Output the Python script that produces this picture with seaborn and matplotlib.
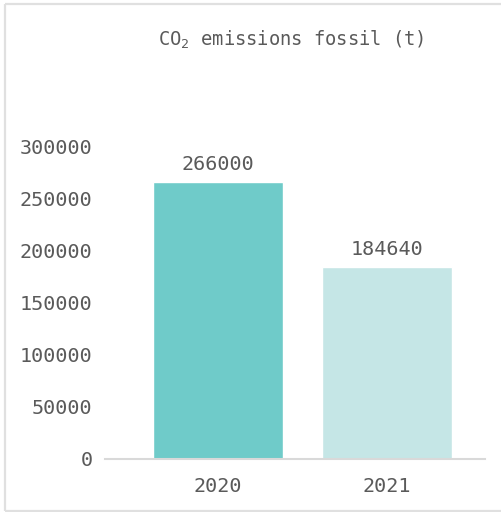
import matplotlib
matplotlib.use("Agg")
import matplotlib.pyplot as plt
import seaborn as sns
import pandas as pd
from matplotlib.lines import Line2D

years = ["2020", "2021"]
emissions = [266000, 184640]
bar_colors = ["#6fcbc9", "#c5e6e6"]
y_ticks = [0, 50000, 100000, 150000, 200000, 250000, 300000]

sns.set_theme(style="white")
plt.rcParams["font.family"] = ["DejaVu Sans Mono"]
text_color = "#5a5a5a"

df = pd.DataFrame({"year": years, "emissions": emissions})

fig = plt.figure(figsize=(5.02, 5.12), dpi=100)
fig.patch.set_edgecolor("none")
ax = fig.add_axes([105 / 502, 1 - 459 / 512, 380 / 502, 312 / 512])

sns.barplot(data=df, x="year", y="emissions", hue="year",
            palette=dict(zip(years, bar_colors)), width=0.77,
            legend=False, ax=ax, saturation=1)

ax.set_xlim(-0.669, 1.58)
ax.set_ylim(0, 300000)
ax.set_yticks(y_ticks)
ax.set_yticklabels([str(t) for t in y_ticks])
ax.set_xlabel("")
ax.set_ylabel("")

for s in ["top", "right", "left"]:
    ax.spines[s].set_visible(False)
ax.spines["bottom"].set_color("#d9d9d9")
ax.spines["bottom"].set_linewidth(1.5)

ax.tick_params(axis="y", length=0, pad=9, labelsize=14.5, labelcolor=text_color)
ax.tick_params(axis="x", length=0, pad=13, labelsize=14.5, labelcolor=text_color)

for i, v in enumerate(emissions):
    ax.annotate(str(v), (i, v), xytext=(0, 6), textcoords="offset points",
                ha="center", va="bottom", fontsize=14.5, color=text_color)

fig.text(291 / 502, 1 - 40 / 512, "CO$_{\\mathregular{2}}$ emissions fossil (t)",
         ha="center", va="center", fontsize=13.5, color=text_color)

# light frame around the figure, open on the right
x0, y0, y1 = 4.5 / 502, 1 - 510.5 / 512, 1 - 3.5 / 512
frame = dict(color="#e0e0e0", linewidth=1.6, transform=fig.transFigure,
             solid_capstyle="butt")
fig.add_artist(Line2D([x0, 1.0], [y1, y1], **frame))
fig.add_artist(Line2D([x0, x0], [y0, y1], **frame))
fig.add_artist(Line2D([x0, 1.0], [y0, y0], **frame))

fig.savefig("out.png", dpi=100)
